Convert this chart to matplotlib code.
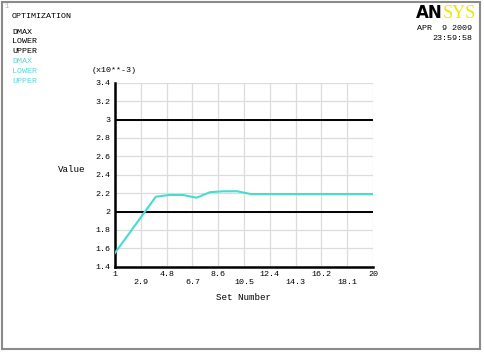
import matplotlib
matplotlib.use("Agg")
import matplotlib.pyplot as plt
from matplotlib.patches import Rectangle

# data (values x10**-3)
sets = [1, 2, 3, 4, 5, 6, 7, 8, 9, 10, 11, 12, 13, 14, 15, 16, 17, 18, 19, 20]
dmax = [1.55, 1.753, 1.957, 2.16, 2.18, 2.18, 2.15, 2.21, 2.22, 2.22,
        2.19, 2.19, 2.19, 2.19, 2.19, 2.19, 2.19, 2.19, 2.19, 2.19]
lower = 2.0
upper = 3.0
xticks = [1, 2.9, 4.8, 6.7, 8.6, 10.5, 12.4, 14.3, 16.2, 18.1, 20]
yticks = [1.4, 1.6, 1.8, 2, 2.2, 2.4, 2.6, 2.8, 3, 3.2, 3.4]

mono = "Liberation Mono"
cyan = "#45ddd2"
cyan_txt = "#5fd6d6"

fig = plt.figure(figsize=(4.84, 3.52), dpi=100)
ax = fig.add_axes([0.2376, 0.2423, 0.533, 0.5227])

for xv in xticks:
    ax.axvline(xv, color="#dcdcdc", lw=0.9, zorder=0)
for yv in yticks:
    ax.axhline(yv, color="#dcdcdc", lw=0.9, zorder=0)

ax.axhline(upper, color="black", lw=1.4, zorder=2)
ax.axhline(lower, color="black", lw=1.4, zorder=2)
ax.plot(sets, dmax, color=cyan, lw=1.5, zorder=3)

ax.set_xlim(1, 20)
ax.set_ylim(1.4, 3.4)
ax.set_yticks(yticks)
ax.set_yticklabels(["1.4", "1.6", "1.8", "2", "2.2", "2.4", "2.6", "2.8", "3", "3.2", "3.4"],
                   fontfamily=mono, fontsize=6)
ax.set_xticks(xticks)
labs = []
for i, xv in enumerate(xticks):
    s = ("%g" % xv)
    labs.append(s if i % 2 == 0 else "\n" + s)
ax.set_xticklabels(labs, fontfamily=mono, fontsize=6, linespacing=1.3)
ax.tick_params(length=0, pad=3)
ax.spines["top"].set_visible(False)
ax.spines["right"].set_visible(False)
ax.spines["left"].set_linewidth(1.8)
ax.spines["bottom"].set_linewidth(1.8)

fig.text(244 / 484, 1 - 297 / 352, "Set Number", fontfamily=mono, fontsize=6.6,
         ha="center", va="center")
fig.text(58 / 484, 1 - 170 / 352, "Value", fontfamily=mono, fontsize=6.6,
         ha="left", va="center")
fig.text(92 / 484, 1 - 70 / 352, "(x10**-3)", fontfamily=mono, fontsize=6,
         ha="left", va="center")

# header text
fig.text(5 / 484, 1 - 6 / 352, "1", fontfamily=mono, fontsize=5, color=cyan_txt,
         va="center")
fig.text(12 / 484, 1 - 17 / 352, "OPTIMIZATION", fontfamily=mono, fontsize=6, va="center")
rows = ["DMAX", "LOWER", "UPPER"]
for i, r in enumerate(rows):
    fig.text(12 / 484, 1 - (32 + 9.8 * i) / 352, r, fontfamily=mono, fontsize=6, va="center")
    fig.text(12 / 484, 1 - (61.5 + 9.8 * i) / 352, r, fontfamily=mono, fontsize=6,
             va="center", color=cyan_txt)

fig.text(443 / 484, 1 - 13 / 352, "AN", fontfamily="DejaVu Sans", fontweight="bold",
         fontsize=12, ha="right", va="center", color="black")
fig.text(443 / 484, 1 - 13 / 352, "SYS", fontfamily="Liberation Serif",
         fontsize=13, ha="left", va="center", color="#f2e600")
fig.text(472 / 484, 1 - 28 / 352, "APR  9 2009", fontfamily=mono, fontsize=6,
         ha="right", va="center")
fig.text(472 / 484, 1 - 38 / 352, "23:59:58", fontfamily=mono, fontsize=6,
         ha="right", va="center")

fig.patches.append(Rectangle((2 / 484, 3 / 352), 478 / 484, 347 / 352,
                             transform=fig.transFigure, fill=False,
                             edgecolor="#8a8a8a", lw=1.5))

fig.savefig("out.png", dpi=100)
